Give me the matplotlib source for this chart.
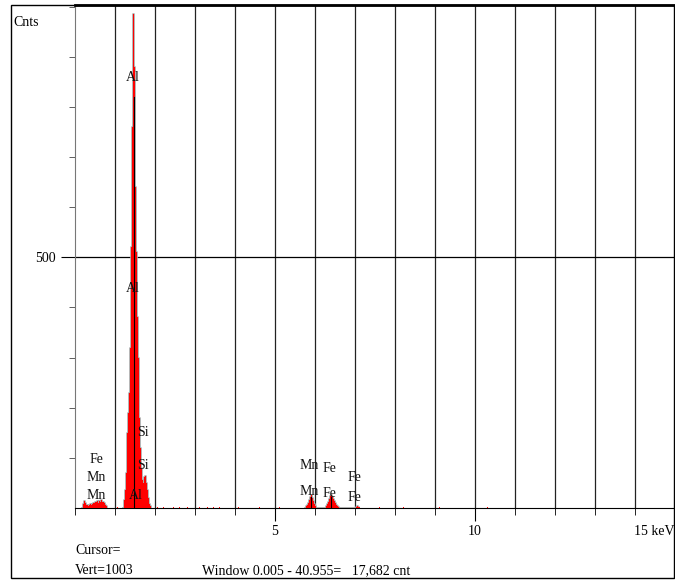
import matplotlib.pyplot as plt
import matplotlib.patches as mpatches
import numpy as np

plt.rcParams['font.family'] = ['Liberation Serif', 'DejaVu Serif']

# spectrum channels (keV) and counts, zero elsewhere
low_e = [0.175, 0.2, 0.225, 0.25, 0.275, 0.3, 0.325, 0.35, 0.375, 0.4, 0.425, 0.45, 0.475,
         0.5, 0.525, 0.55, 0.575, 0.6, 0.625, 0.65, 0.675, 0.7, 0.725, 0.75, 0.775, 0.8]
low_c = [0, 8, 14, 10, 6, 5, 4, 5, 7, 6, 8, 10, 9, 12, 11, 13, 10, 14, 12, 15, 11, 12, 9, 6, 3, 0]

peak_e = [1.2, 1.225, 1.25, 1.275, 1.3, 1.325, 1.35, 1.375, 1.4, 1.425, 1.45, 1.475, 1.5,
          1.525, 1.55, 1.575, 1.6, 1.625, 1.65, 1.675, 1.7, 1.725, 1.75, 1.775, 1.8, 1.825,
          1.85, 1.875, 1.9]
peak_c = [0, 15, 35, 70, 150, 190, 230, 320, 520, 760, 985, 880, 640, 510, 380, 300, 180,
          120, 80, 55, 50, 62, 64, 50, 35, 20, 8, 3, 0]

kline_e = [5.75, 5.775, 5.8, 5.825, 5.85, 5.875, 5.9, 5.925, 5.95, 5.975, 6.0, 6.025,
           6.25, 6.275, 6.3, 6.325, 6.35, 6.375, 6.4, 6.425, 6.45, 6.475, 6.5, 6.525, 6.55,
           6.575, 6.6, 7.0, 7.025, 7.05, 7.075, 7.1]
kline_c = [0, 3, 6, 10, 16, 22, 26, 20, 13, 7, 3, 0,
           0, 3, 7, 12, 18, 24, 26, 22, 17, 13, 10, 6, 3, 1, 0, 0, 2, 3, 2, 0]

noise_e = [1.05, 2.05, 2.2, 2.45, 2.6, 2.8, 3.1, 3.3, 3.45, 3.6, 4.1, 4.4, 4.6, 5.1, 7.1,
           7.6, 8.2, 9.1, 10.3]
noise_c = [2, 2, 1, 2, 1, 2, 2, 1, 2, 1, 1, 2, 1, 1, 2, 1, 1, 1, 1]

# element markers: keV and top in counts
marker_e = [1.487, 5.899, 6.404]
marker_top = [820, 22, 22]

labels = [('Al', 1.45, 858), ('Al', 1.45, 438), ('Al', 1.52, 25),
          ('Si', 1.7, 150), ('Si', 1.7, 85),
          ('Fe', 0.53, 97), ('Mn', 0.53, 60), ('Mn', 0.53, 24),
          ('Mn', 5.85, 84), ('Fe', 6.35, 78), ('Mn', 5.85, 33), ('Fe', 6.35, 28),
          ('Fe', 6.98, 60), ('Fe', 6.98, 21)]

fig = plt.figure(figsize=[6.75, 5.83], dpi=100)
ax = fig.add_axes([75 / 675, 1 - 508 / 583, 600 / 675, 503 / 583])

fig.patches.append(mpatches.Rectangle((11 / 675, 5 / 583), 663 / 675, 573 / 583,
                                      transform=fig.transFigure, fill=False,
                                      edgecolor='black', linewidth=1))

for x in range(1, 15):
    ax.axvline(x, color='#222222', linewidth=0.9, zorder=1)
ax.axhline(500, color='black', linewidth=0.9, zorder=1)

# gray outline behind, solid red fill on top
for e, c in [(low_e, low_c), (peak_e, peak_c), (kline_e, kline_c)]:
    ax.step(e, c, where='mid', color='#a8a8a8', linewidth=1.2, zorder=2)
    ax.fill_between(e, c, step='mid', facecolor='#ff0000', linewidth=0, zorder=3)
ax.bar(noise_e, noise_c, width=0.025, color='#ff0000', zorder=3)

for e, top in zip(marker_e, marker_top):
    ax.plot([e, e], [0, top], color='black', linewidth=0.8, zorder=4)

for txt, e, y in labels:
    ax.text(e, y, txt, fontsize=10, ha='center', va='center', color='#111111', zorder=5)

ax.set_xlim(0, 15)
ax.set_ylim(0, 1003)

ax.set_xticks([5, 10, 15])
ax.set_xticklabels(['5', '10', '15 keV'])
ax.set_xticks(range(0, 15), minor=True)
ax.tick_params(axis='x', which='major', length=9, direction='out', labelsize=10, pad=3)
ax.tick_params(axis='x', which='minor', length=5, direction='out')
ax.get_xticklabels()[-1].set_horizontalalignment('right')

ax.set_yticks([500])
ax.set_yticklabels(['500'])
ax.set_yticks(range(100, 1001, 100), minor=True)
ax.tick_params(axis='y', which='major', length=10, direction='out', labelsize=10, pad=4)
ax.tick_params(axis='y', which='minor', length=4, direction='out', color='#444444')

ax.spines['right'].set_visible(False)
ax.spines['left'].set_color('#777777')
ax.spines['top'].set_linewidth(2)

fig.text(13 / 675, 1 - 22 / 583, 'Cnts', fontsize=10, va='center', ha='left')
fig.text(75 / 675, 1 - 551 / 583, 'Cursor=', fontsize=10, va='center', ha='left')
fig.text(75 / 675, 1 - 571 / 583, 'Vert=1003', fontsize=10, va='center', ha='left')
fig.text(202 / 675, 1 - 571 / 583, 'Window 0.005 - 40.955=   17,682 cnt', fontsize=10,
         va='center', ha='left')

plt.savefig('out.png', dpi=100)
plt.close()
